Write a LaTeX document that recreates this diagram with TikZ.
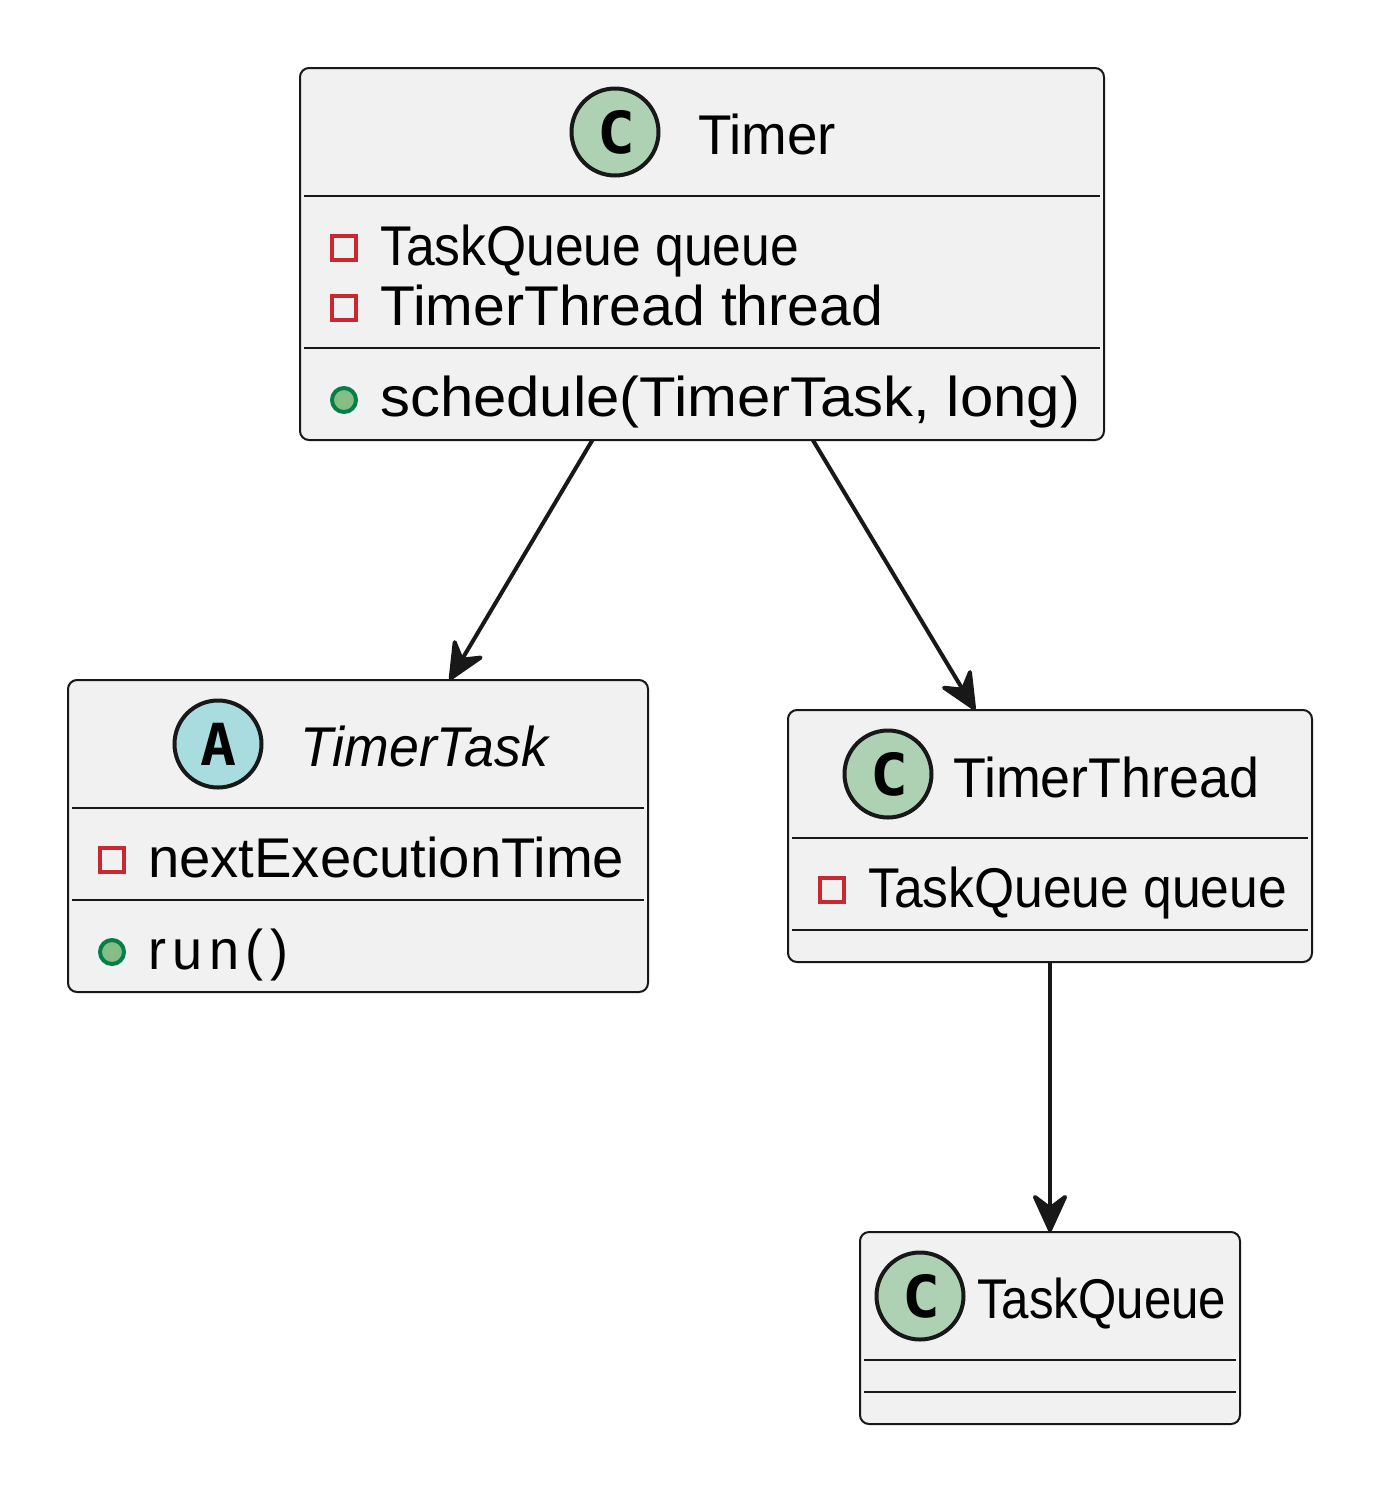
\documentclass[tikz,border=0pt]{standalone}
\usepackage{fontspec}
\usepackage{graphicx}
\setmainfont{Liberation Sans}
\newfontfamily\glyphfont{DejaVu Sans Mono}
\usetikzlibrary{arrows.meta}
\definecolor{boxfill}{HTML}{F1F1F1}
\definecolor{ink}{HTML}{181818}
\definecolor{cspot}{HTML}{ADD1B2}
\definecolor{aspot}{HTML}{A9DCDF}
\definecolor{privred}{HTML}{C82930}
\definecolor{pubfill}{HTML}{84BE84}
\definecolor{publine}{HTML}{038048}
\newcommand\fitw[2]{\resizebox{#1pt}{\height}{#2}}
\tikzset{
  classbox/.style={draw=ink,fill=boxfill,line width=2pt,rounded corners=9pt,inner sep=0pt,outer sep=0pt},
  divider/.style={draw=ink,line width=2pt},
  spot/.style={circle,draw=ink,line width=4pt,minimum size=87pt,inner sep=0pt},
  spotletter/.style={inner sep=0pt,font=\fontsize{58}{58}\selectfont\glyphfont\bfseries,text=black},
  label/.style={anchor=base west,inner sep=0pt,font=\fontsize{56}{60}\selectfont,text=black},
  priv/.style={rectangle,draw=privred,line width=4pt,minimum size=24pt,inner sep=0pt},
  pub/.style={circle,draw=publine,fill=pubfill,line width=4pt,minimum size=24pt,inner sep=0pt},
  dep/.style={draw=ink,line width=4pt,-{Stealth[length=44pt,width=40pt,inset=15pt,round]}}
}
\begin{document}
\begin{tikzpicture}[x=1pt,y=-1pt]
\useasboundingbox (0,0) rectangle (1380,1492);
\fill[white] (0,0) rectangle (1380,1492);
% boxes
\node[classbox,minimum width=804pt,minimum height=372pt] (timer) at (702,254) {};
\node[classbox,minimum width=580pt,minimum height=312pt] (timertask) at (358,836) {};
\node[classbox,minimum width=524pt,minimum height=252pt] (timerthread) at (1050,836) {};
\node[classbox,minimum width=380pt,minimum height=192pt] (taskqueue) at (1050,1328) {};
% dividers
\draw[divider] (304,196) -- (1100,196);
\draw[divider] (304,348) -- (1100,348);
\draw[divider] (72,808) -- (644,808);
\draw[divider] (72,900) -- (644,900);
\draw[divider] (792,838) -- (1308,838);
\draw[divider] (792,930) -- (1308,930);
\draw[divider] (864,1360) -- (1236,1360);
\draw[divider] (864,1392) -- (1236,1392);
% spots
\node[spot,fill=cspot] (s1) at (615,132) {};
\node[spotletter] (s1l) at (616,132) {\fitw{38}{C}};
\node[spot,fill=aspot] (s2) at (218,744) {};
\node[spotletter] (s2l) at (218,744) {\fitw{36}{A}};
\node[spot,fill=cspot] (s3) at (888,774) {};
\node[spotletter] (s3l) at (889,774) {\fitw{38}{C}};
\node[spot,fill=cspot] (s4) at (920,1296) {};
\node[spotletter] (s4l) at (921,1296) {\fitw{38}{C}};
% Timer
\node[label] (t0) at (698,154) {\fitw{138}{Timer}};
\node[priv] (tp1) at (344,248) {};
\node[label] (t1) at (380,265) {\fitw{419}{TaskQueue queue}};
\node[priv] (tp2) at (344,308) {};
\node[label] (t2) at (380,325) {\fitw{503}{TimerThread thread}};
\node[pub] (tp3) at (344,400) {};
\node[label] (t3) at (380,416) {\fitw{700}{schedule(TimerTask, long)}};
% TimerTask
\node[label] (k0) at (300,766) {\fitw{248}{\itshape TimerTask}};
\node[priv] (kp1) at (112,860) {};
\node[label] (k1) at (148,877) {\fitw{476}{nextExecutionTime}};
\node[pub] (kp2) at (112,952) {};
\node[label] (k2) at (148,969) {\fitw{140}{\addfontfeature{LetterSpace=12}run()}};
% TimerThread
\node[label] (h0) at (953,797) {\fitw{306}{TimerThread}};
\node[priv] (hp1) at (832,890) {};
\node[label] (h1) at (868,907) {\fitw{419}{TaskQueue queue}};
% TaskQueue
\node[label] (q0) at (977,1318) {\fitw{249}{TaskQueue}};
% connectors
\draw[dep] (timer) -- (timertask);
\draw[dep] (timer) -- (timerthread);
\draw[dep] (timerthread) -- (taskqueue);
\end{tikzpicture}
\end{document}
